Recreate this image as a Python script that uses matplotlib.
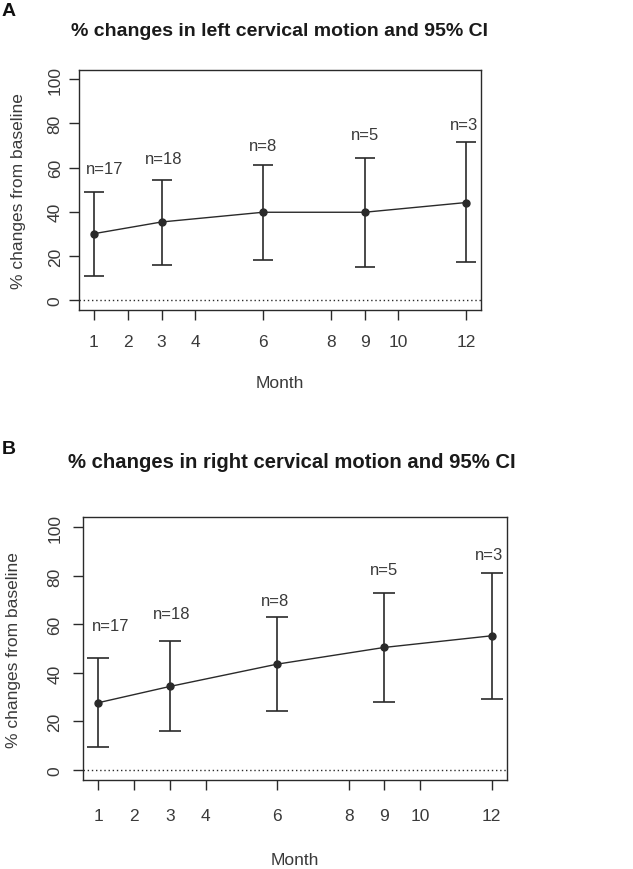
import matplotlib
matplotlib.use("Agg")
import matplotlib.pyplot as plt

plt.rcParams["font.family"] = ["Liberation Sans", "DejaVu Sans"]

## months and n per visit
months = [1, 3, 6, 9, 12]
n_labels = ["n=17", "n=18", "n=8", "n=5", "n=3"]
xticks = [1, 2, 3, 4, 6, 8, 9, 10, 12]
yticks = [0, 20, 40, 60, 80, 100]

## panel A: left cervical motion
left_mean = [30.1, 35.4, 39.8, 39.8, 44.2]
left_upper = [49.0, 54.3, 61.3, 64.2, 71.4]
left_lower = [10.8, 16.1, 18.0, 15.2, 17.4]
left_label_y = [59.8, 64.3, 69.9, 74.9, 79.7]
left_label_x = [1.33, 3.05, 6.0, 9.0, 11.93]

## panel B: right cervical motion
right_mean = [27.7, 34.4, 43.6, 50.5, 55.3]
right_upper = [46.1, 53.0, 63.1, 72.8, 81.0]
right_lower = [9.3, 16.0, 24.4, 28.1, 29.2]
right_label_y = [59.7, 64.6, 70.0, 82.5, 88.8]
right_label_x = [1.34, 3.04, 5.94, 9.0, 11.93]

ink = "#2a2a2a"
txt = "#3a3a3a"

fig = plt.figure(figsize=(6.33, 8.70), dpi=100)


def panel(rect, mean, upper, lower, lab_x, lab_y, cap, xpad, ypad, ylab_x, xlab_y):
    ax = fig.add_axes(rect)
    err = [[m - lo for m, lo in zip(mean, lower)], [up - m for m, up in zip(mean, upper)]]
    ax.errorbar(months, mean, yerr=err, fmt="-o", color=ink, ecolor=ink,
                lw=1.0, elinewidth=1.2, capsize=cap, capthick=1.2, markersize=5)
    ax.axhline(0, color=ink, lw=1.0, ls=(0, (1, 2)))
    for x, y, s in zip(lab_x, lab_y, n_labels):
        ax.text(x, y, s, ha="center", va="center", fontsize=12, color=txt)
    ax.set_xlim(0.56, 12.44)
    ax.set_ylim(-4.3, 104.2)
    ax.set_xticks(xticks)
    ax.set_xticklabels([str(t) for t in xticks], fontsize=12.5, color=txt)
    ax.set_yticks(yticks)
    ax.set_yticklabels([str(t) for t in yticks], fontsize=12.5, color=txt,
                       rotation=90, va="center")
    ax.tick_params(length=7.2, width=1.0, color=ink)
    ax.tick_params(axis="x", pad=xpad)
    ax.tick_params(axis="y", pad=ypad)
    for s in ax.spines.values():
        s.set_color(ink)
        s.set_linewidth(1.0)
    ax.set_xlabel("Month", fontsize=12.5, color=txt, va="center")
    ax.set_ylabel("% changes from baseline", fontsize=12.5, color=txt, va="center")
    ax.xaxis.set_label_coords(0.5, xlab_y)
    ax.yaxis.set_label_coords(ylab_x, 0.5)
    return ax


panel([0.1248, 0.6429, 0.635, 0.2755], left_mean, left_upper, left_lower,
      left_label_x, left_label_y, 7.5, 10.5, 4.5, -0.151, -0.303)
fig.text(0.442, 1 - 31 / 870, "% changes in left cervical motion and 95% CI",
         ha="center", va="center", fontsize=14, fontweight="bold", color="#1a1a1a")
fig.text(0.003, 1 - 12 / 870, "A", ha="left", va="center",
         fontsize=14, fontweight="bold", color="#111111")

panel([0.1306, 0.1020, 0.6708, 0.3023], right_mean, right_upper, right_lower,
      right_label_x, right_label_y, 7.8, 13, 7.5, -0.163, -0.302)
fig.text(0.4605, 1 - 463 / 870, "% changes in right cervical motion and 95% CI",
         ha="center", va="center", fontsize=14.6, fontweight="bold", color="#1a1a1a")
fig.text(0.003, 1 - 450 / 870, "B", ha="left", va="center",
         fontsize=14, fontweight="bold", color="#111111")

fig.savefig("out.png", dpi=100)
